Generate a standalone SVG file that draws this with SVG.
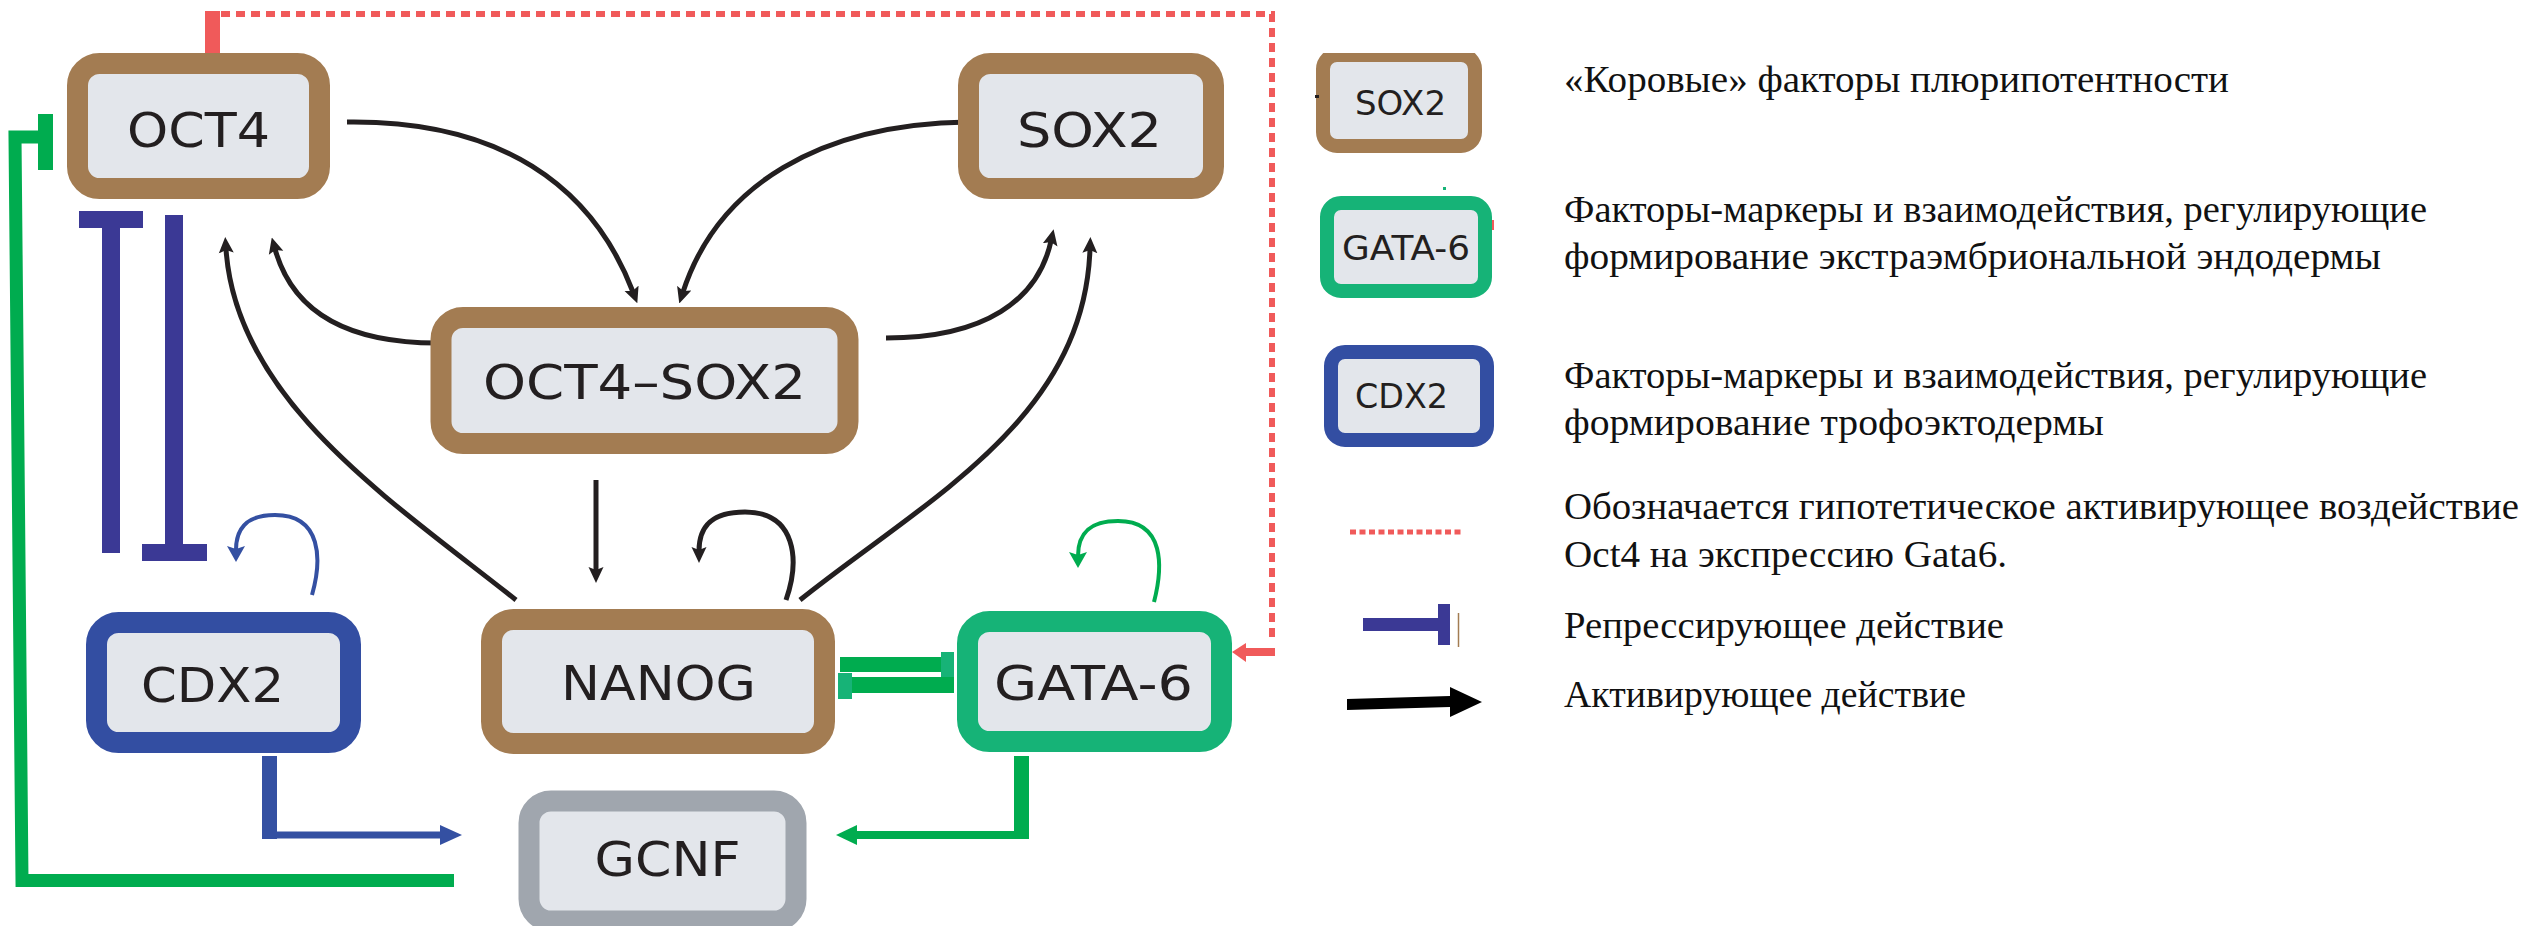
<svg xmlns="http://www.w3.org/2000/svg" width="2522" height="926" viewBox="0 0 2522 926">
  <style>
    .box { fill: #e3e6eb; stroke-width: 21; }
    .core { stroke: #a37c52; }
    .endo { stroke: #16b377; }
    .troph { stroke: #334ea2; }
    .target { stroke: #a0a6ae; }
    .lbox { fill: #e3e6eb; stroke-width: 14; }
    .label { font-family: "DejaVu Sans", Verdana, sans-serif; font-size: 48px; fill: #231f20; text-anchor: middle; }
    .llabel { font-family: "DejaVu Sans", Verdana, sans-serif; font-size: 34px; fill: #231f20; text-anchor: middle; }
    .note { font-family: "Liberation Serif", "Times New Roman", serif; font-size: 38px; fill: #111111; }
    .act { fill: none; stroke: #231f20; stroke-width: 5; }
    .red { fill: #f05a5a; }
    .green { fill: #00ac4f; }
    .cap { fill: #17b377; }
    .indigo { fill: #3b3995; }
    .blue { fill: #3450a2; }
  </style>
  <defs>
    <marker id="arrowK" viewBox="0 0 16 16" refX="4" refY="8" markerWidth="16" markerHeight="16" markerUnits="userSpaceOnUse" orient="auto">
      <path d="M0,0.5 L16,8 L0,15.5 L3,8 z" fill="#231f20"/>
    </marker>
    <marker id="arrowB" viewBox="0 0 16 18" refX="4" refY="9" markerWidth="16" markerHeight="18" markerUnits="userSpaceOnUse" orient="auto">
      <path d="M0,0 L16,9 L0,18 L3,9 z" fill="#3450a2"/>
    </marker>
    <marker id="arrowG" viewBox="0 0 16 18" refX="4" refY="9" markerWidth="16" markerHeight="18" markerUnits="userSpaceOnUse" orient="auto">
      <path d="M0,0 L16,9 L0,18 L3,9 z" fill="#00ac4f"/>
    </marker>
    <clipPath id="legendClip">
      <rect x="1300" y="53" width="200" height="100"/>
    </clipPath>
  </defs>

  <rect width="2522" height="926" fill="#ffffff"/>

  <!-- connectors -->
  <g id="connectors">
    <!-- hypothetical OCT4 -> GATA-6 activation -->
    <rect class="red" x="205" y="11" width="15" height="43"/>
    <path d="M221,14 H1272 V642" fill="none" stroke="#f05a5a" stroke-width="6" stroke-dasharray="9 6"/>
    <rect class="red" x="1244" y="648" width="31" height="8"/>
    <polygon class="red" points="1246,643 1232,652 1246,662"/>

    <!-- activation curves between core factors -->
    <path class="act" d="M347,122 C500,120 592,185 633,292" marker-end="url(#arrowK)"/>
    <path class="act" d="M968,122 C820,124 718,185 683,292" marker-end="url(#arrowK)"/>
    <path class="act" d="M437,343 C345,343 292,310 275,249" marker-end="url(#arrowK)"/>
    <path class="act" d="M886,338 C985,338 1038,300 1051,241" marker-end="url(#arrowK)"/>
    <path class="act" d="M516,600 C390,500 236,400 226,249" marker-end="url(#arrowK)"/>
    <path class="act" d="M800,600 C925,500 1084,420 1090,249" marker-end="url(#arrowK)"/>
    <path class="act" d="M596,480 L596,571" stroke-width="4" marker-end="url(#arrowK)"/>
    <path class="act" d="M786,600 C800,560 796,512 745,512 C708,512 699,530 699,551" marker-end="url(#arrowK)"/>

    <!-- self-activation loops -->
    <path d="M312,595 C322,560 322,515 275,515 C245,515 236,530 236,550" fill="none" stroke="#3450a2" stroke-width="4" marker-end="url(#arrowB)"/>
    <path d="M1154,602 C1163,567 1165,521 1118,521 C1088,521 1078,535 1078,556" fill="none" stroke="#00ac4f" stroke-width="4" marker-end="url(#arrowG)"/>

    <!-- CDX2 / OCT4 mutual repression -->
    <rect class="indigo" x="79" y="211" width="64" height="17"/>
    <rect class="indigo" x="102" y="219" width="18" height="334"/>
    <rect class="indigo" x="165" y="215" width="18" height="337"/>
    <rect class="indigo" x="142" y="544" width="65" height="17"/>

    <!-- NANOG / GATA-6 mutual repression -->
    <rect class="green" x="840" y="657" width="103" height="15"/>
    <rect class="cap" x="941" y="652" width="13" height="26"/>
    <rect class="green" x="850" y="677" width="104" height="16"/>
    <rect class="cap" x="838" y="673" width="14" height="26"/>

    <!-- CDX2 -> GCNF -->
    <rect class="blue" x="262" y="756" width="15" height="83"/>
    <rect class="blue" x="262" y="831.5" width="180" height="7"/>
    <polygon class="blue" points="440,825 462,835 440,845"/>

    <!-- GATA-6 -> GCNF -->
    <rect class="green" x="1014" y="756" width="15" height="83"/>
    <rect class="green" x="855" y="831" width="174" height="8"/>
    <polygon class="green" points="857,825 836,835 857,845"/>

    <!-- GCNF -| OCT4 -->
    <path d="M454,880.5 L22,880.5 L15,137 L46,137" fill="none" stroke="#00ac4f" stroke-width="13"/>
    <rect class="green" x="38" y="114" width="15" height="56"/>
  </g>

  <!-- nodes -->
  <g id="node-oct4">
    <rect class="box core" x="77.5" y="63.5" width="242" height="125" rx="22"/>
    <text class="label" x="198.5" y="147" textLength="143" lengthAdjust="spacingAndGlyphs">OCT4</text>
  </g>
  <g id="node-sox2">
    <rect class="box core" x="968.5" y="63.5" width="245" height="125" rx="22"/>
    <text class="label" x="1089.5" y="147" textLength="145" lengthAdjust="spacingAndGlyphs">SOX2</text>
  </g>
  <g id="node-oct4-sox2">
    <rect class="box core" x="441" y="317.5" width="407" height="126" rx="22"/>
    <text class="label" x="644.5" y="399" textLength="323" lengthAdjust="spacingAndGlyphs">OCT4–SOX2</text>
  </g>
  <g id="node-cdx2">
    <rect class="box troph" x="96.5" y="622.5" width="254" height="120" rx="22"/>
    <text class="label" x="212.5" y="702" textLength="143" lengthAdjust="spacingAndGlyphs">CDX2</text>
  </g>
  <g id="node-nanog">
    <rect class="box core" x="491.5" y="619.5" width="333" height="124" rx="22"/>
    <text class="label" x="658.5" y="700" textLength="195" lengthAdjust="spacingAndGlyphs">NANOG</text>
  </g>
  <g id="node-gata6">
    <rect class="box endo" x="967.5" y="621.5" width="254" height="120" rx="22"/>
    <text class="label" x="1093.5" y="700" textLength="199" lengthAdjust="spacingAndGlyphs">GATA-6</text>
  </g>
  <g id="node-gcnf">
    <rect class="box target" x="529" y="801" width="267" height="120" rx="22" stroke-width="22"/>
    <text class="label" x="667.5" y="876" textLength="146" lengthAdjust="spacingAndGlyphs">GCNF</text>
  </g>

  <!-- legend -->
  <g id="legend-core">
    <g clip-path="url(#legendClip)">
      <rect class="lbox core" x="1323" y="55" width="152" height="91" rx="14"/>
    </g>
    <rect x="1315" y="95" width="4" height="3" fill="#231f20"/>
    <text class="llabel" x="1400.5" y="115" textLength="91" lengthAdjust="spacingAndGlyphs">SOX2</text>
    <text class="note" x="1564" y="92" textLength="665" lengthAdjust="spacingAndGlyphs">«Коровые» факторы плюрипотентности</text>
  </g>
  <g id="legend-endo">
    <rect class="lbox endo" x="1327" y="203" width="158" height="88" rx="14"/>
    <rect x="1443" y="187" width="3" height="3" fill="#16b377"/>
    <rect x="1492" y="220" width="2" height="10" fill="#f05a5a"/>
    <text class="llabel" x="1406" y="260" textLength="128" lengthAdjust="spacingAndGlyphs">GATA-6</text>
    <text class="note" x="1564" y="222" textLength="863" lengthAdjust="spacingAndGlyphs">Факторы-маркеры и взаимодействия, регулирующие</text>
    <text class="note" x="1564" y="269" textLength="817" lengthAdjust="spacingAndGlyphs">формирование экстраэмбриональной эндодермы</text>
  </g>
  <g id="legend-troph">
    <rect class="lbox troph" x="1331" y="352" width="156" height="88" rx="14"/>
    <text class="llabel" x="1401.5" y="408" textLength="93" lengthAdjust="spacingAndGlyphs">CDX2</text>
    <text class="note" x="1564" y="388" textLength="863" lengthAdjust="spacingAndGlyphs">Факторы-маркеры и взаимодействия, регулирующие</text>
    <text class="note" x="1564" y="435" textLength="540" lengthAdjust="spacingAndGlyphs">формирование трофоэктодермы</text>
  </g>
  <g id="legend-hypothetical">
    <path d="M1350,532 H1464" fill="none" stroke="#f05a5a" stroke-width="5" stroke-dasharray="6 3.5"/>
    <text class="note" x="1564" y="519" textLength="955" lengthAdjust="spacingAndGlyphs">Обозначается гипотетическое активирующее воздействие</text>
    <text class="note" x="1564" y="567" textLength="443" lengthAdjust="spacingAndGlyphs">Oct4 на экспрессию Gata6.</text>
  </g>
  <g id="legend-repression">
    <rect class="indigo" x="1363" y="618" width="79" height="13"/>
    <rect class="indigo" x="1438" y="604" width="12" height="41"/>
    <line x1="1458.5" y1="613" x2="1458.5" y2="647" stroke="#a37c52" stroke-width="1.5"/>
    <text class="note" x="1564" y="638" textLength="440" lengthAdjust="spacingAndGlyphs">Репрессирующее действие</text>
  </g>
  <g id="legend-activation">
    <path d="M1347,699 L1450,696 L1450,687 L1482,702 L1450,717 L1450,707 L1347,710 z" fill="#000000"/>
    <text class="note" x="1564" y="707" textLength="402" lengthAdjust="spacingAndGlyphs">Активирующее действие</text>
  </g>
</svg>
